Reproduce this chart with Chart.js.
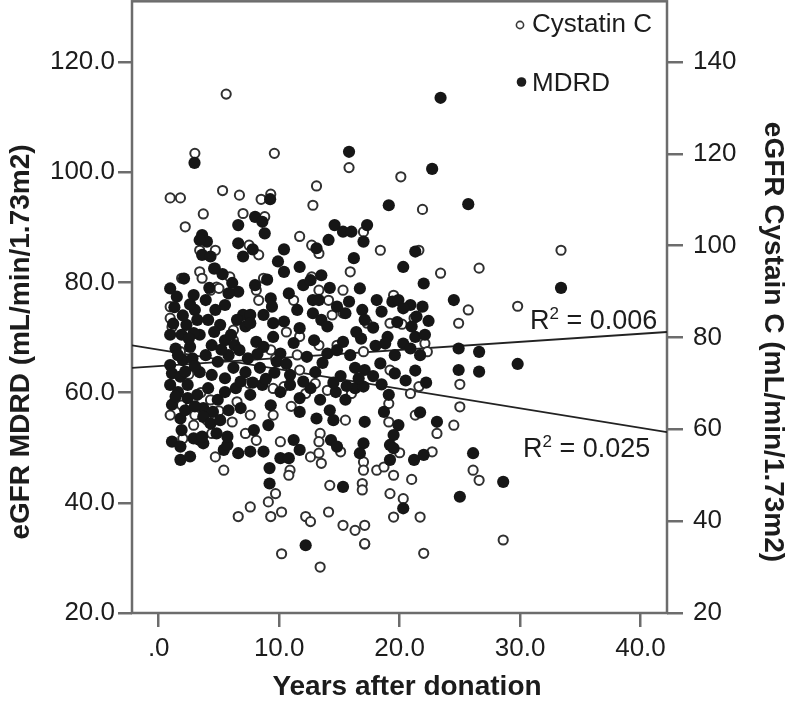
<!DOCTYPE html>
<html>
<head>
<meta charset="utf-8">
<script src="https://cdn.jsdelivr.net/npm/chart.js@4.4.1/dist/chart.umd.min.js"></script>
<style>
  html, body { margin: 0; padding: 0; background: #fff; }
</style>
</head>
<body>
<canvas id="chart" width="787" height="702"></canvas>
<script>
// [years after donation, eGFR]
const mdrdPoints = [
  [2.97,101.7],[9.25,95.1],[23.4,113.5],[15.8,103.7],[22.7,100.6],
  [33.4,79.0],[29.8,65.2],[28.6,43.8],
  [3.6,88.6],[4.0,87.4],[3.4,87.7],[3.6,85.0],[4.3,84.7],[2.1,80.7],[0.95,78.9],[1.5,77.4],[2.9,77.7],[0.95,70.5],[0.95,65.0],
  [1.8,55.3],[1.9,53.2],[1.1,51.1],[1.8,50.2],[1.8,47.8],[2.6,48.4],[3.4,51.4],[3.7,50.8],[5.4,49.6],[5.7,50.5],
  [0.95,61.4],[1.6,60.1],[2.4,61.4],[3.2,59.6],[4.1,60.8],[4.9,58.7],[5.5,60.1],[1.1,57.8],[2.2,56.8],[3.7,57.2],[4.5,56.5],[5.8,56.8],
  [2.9,51.7],[3.6,52.0],[3.7,55.6],[4.3,54.4],[5.1,55.0],[4.8,52.6],[5.7,52.0],
  [3.9,76.8],[4.7,75.0],[5.5,75.9],[4.1,73.2],[5.1,72.3],[3.4,70.5],[4.4,68.6],[5.5,69.5],[3.9,66.8],[4.9,65.6],[5.8,66.8],
  [3.4,63.7],[4.4,63.2],[5.5,62.6],[2.6,68.3],[2.0,65.9],[2.9,70.8],[1.1,63.5],[1.8,62.9],[3.0,75.0],[3.2,73.2],[2.3,72.3],
  [6.6,90.4],[8.0,91.9],[8.6,91.0],[8.8,88.9],[14.6,90.4],[15.3,89.2],[16.0,89.2],[13.1,86.2],[14.1,87.7],[6.6,87.1],[7.0,84.7],
  [9.9,83.8],[10.4,81.9],[11.7,82.8],[16.2,84.4],[6.1,79.9],[6.6,78.3],[12.0,79.5],[12.6,80.4],[13.5,81.3],[12.8,76.8],[13.3,76.8],
  [9.3,77.1],[9.4,75.6],[7.0,74.1],[7.6,74.1],[8.7,74.1],[14.8,75.6],[15.5,74.4],[12.8,74.4],[13.5,73.2],[14.0,72.0],[9.5,72.6],
  [10.4,72.9],[6.5,73.2],[7.2,72.0],[7.6,72.6],[9.5,70.1],[11.7,71.7],[8.1,69.2],[8.7,68.3],[15.3,69.2],[6.3,68.6],[6.7,67.7],
  [10.1,67.1],[9.8,65.6],[12.3,66.5],[14.0,67.1],[14.8,67.7],[15.9,66.8],[7.2,63.7],[8.4,64.5],[10.9,63.2],[13.0,63.7],[15.1,63.0],[16.3,64.5],
  [6.4,60.8],[7.6,59.6],[8.6,61.4],[10.1,60.1],[10.9,61.4],[11.7,59.0],[12.6,60.8],[13.4,58.7],[14.7,60.1],[15.5,58.7],[16.3,60.8],
  [6.8,57.2],[9.3,57.7],[11.7,56.5],[14.2,56.8],[9.1,54.1],[7.9,53.2],[11.2,51.4],[11.7,49.6],[10.1,48.1],[10.8,48.1],[8.7,49.3],
  [7.6,49.3],[6.6,49.0],[9.2,46.3],[9.2,43.5],[15.3,42.9],[12.2,32.3],[13.1,55.3],[14.5,55.0],[14.3,51.4],[14.8,50.2],
  [19.1,94.0],[25.7,94.2],[17.3,90.4],[17.0,87.4],[21.3,85.6],[20.3,82.8],[22.0,79.8],[16.7,78.9],[18.1,76.8],[19.4,76.5],[19.9,76.8],
  [20.9,75.9],[21.9,75.6],[18.5,74.7],[20.3,75.3],[16.9,75.0],[17.1,73.2],[24.5,76.8],[21.4,73.8],[19.0,70.1],[18.8,68.9],[21.3,70.1],
  [22.1,70.5],[20.3,68.9],[20.9,68.0],[21.7,66.8],[24.9,68.0],[26.6,67.4],[18.4,65.3],[17.1,64.1],[24.9,64.1],[26.6,63.8],
  [17.0,61.1],[19.1,59.6],[18.7,56.5],[21.7,56.4],[23.1,54.7],[17.1,54.7],[17.0,50.8],[19.9,54.1],[19.5,52.3],[19.2,50.5],[19.5,49.9],
  [16.7,49.0],[19.2,47.8],[21.2,47.8],[22.0,48.7],[26.1,49.0],[25.0,41.1],[20.3,39.0],
  [1.3,75.5],[2.0,74.0],[2.6,76.0],[1.2,72.5],[1.9,70.5],[2.5,69.8],[1.4,68.0],[1.6,66.8],[2.2,63.8],[2.8,66.2],[3.0,64.8],
  [2.4,59.0],[3.0,57.5],[1.4,59.3],[4.6,71.0],[5.2,67.8],[6.0,70.5],[6.2,64.5],[6.8,62.0],[7.4,66.2],[7.8,61.8],[8.2,67.0],
  [8.9,62.5],[9.6,63.6],[10.6,65.2],[11.2,69.0],[12.0,62.0],[12.9,69.5],[13.6,65.4],[14.5,61.8],[15.6,61.2],[16.6,62.6],
  [17.8,63.0],[18.5,61.5],[19.6,63.5],[20.5,62.2],[21.3,64.0],[22.2,61.8],[18.0,68.5],[19.6,66.8],[16.8,69.8],[17.8,71.8],
  [19.8,72.8],[21.0,72.0],[22.4,73.0],[8.0,79.5],[9.0,80.5],[10.8,78.0],[11.5,75.0],[14.2,79.0],[15.8,76.5],[16.4,71.0],
  [10.4,86.0],[7.8,86.0],[5.3,81.5],[4.2,79.0],[5.8,78.0],[4.6,82.5]
];

const cystatinPoints = [
  [5.6,133.0],[3.0,120.1],[9.6,120.1],[0.95,110.4],[1.8,110.4],[5.3,112.0],[6.7,111.0],[8.5,110.1],[9.3,111.2],[15.8,117.0],[13.1,113.0],[20.1,115.0],
  [33.4,99.0],[29.8,86.8],[28.6,35.9],[13.4,30.0],[17.1,35.0],
  [3.7,106.9],[2.2,104.1],[3.4,99.0],[4.7,99.0],[4.7,95.1],[3.4,94.3],[3.6,92.9],[1.9,92.9],[4.8,91.0],[0.95,86.7],[4.3,90.3],[5.0,90.7],
  [0.95,84.2],[1.1,82.3],[1.8,76.9],
  [0.95,63.1],[1.9,65.3],[3.0,63.1],[2.9,60.9],[4.4,59.1],[4.7,54.0],[5.4,51.1],
  [12.8,108.8],[7.0,107.0],[8.8,106.3],[11.7,102.0],[12.7,100.1],[13.3,98.3],[7.5,100.1],[8.3,98.0],[15.9,94.3],[8.7,92.9],[8.1,90.3],
  [8.3,88.1],[12.7,93.2],[13.3,90.3],[14.1,88.1],[15.3,90.3],[11.2,88.1],[14.4,84.9],[15.3,85.3],[10.6,81.2],[11.7,80.2],[13.3,78.3],
  [14.8,78.3],[6.2,81.6],[6.2,79.4],[9.3,77.3],[9.7,75.4],[11.5,76.2],[11.7,72.9],
  [12.2,67.8],[14.0,68.5],[16.0,67.8],[9.5,63.1],[7.6,63.1],[7.2,59.1],[8.1,57.6],[10.1,57.3],[12.6,54.0],[13.3,54.8],[13.5,52.6],
  [10.9,51.1],[10.8,50.0],[9.7,46.0],[9.1,44.2],[7.6,43.1],[6.6,41.0],[9.3,41.0],[10.2,42.0],[12.2,41.0],[12.6,39.9],[14.1,42.0],
  [14.2,47.8],[15.3,39.1],[16.3,38.0],[10.2,32.9],[13.4,59.1],[13.3,57.3],[15.1,55.1],
  [21.9,107.9],[17.0,103.0],[18.4,99.0],[21.6,99.0],[23.4,94.0],[26.6,95.1],[19.5,89.2],[25.7,86.0],[17.3,83.1],[19.2,83.1],[20.2,82.9],
  [21.2,84.2],[24.9,83.1],[22.1,78.7],[22.3,76.9],[17.0,76.9],[19.2,72.9],
  [21.6,69.3],[25.0,69.8],[20.9,67.8],[19.1,65.6],[25.0,64.9],[21.3,63.1],[19.1,61.6],[23.1,59.1],[24.5,60.9],[20.0,54.9],[22.7,55.1],
  [26.1,51.1],[26.6,48.9],[17.0,52.9],[17.0,51.1],[18.1,51.1],[18.7,51.8],[19.5,50.0],[21.0,49.1],[16.9,48.2],[16.9,46.8],[19.2,46.0],
  [20.3,44.9],[19.5,40.9],[21.7,40.9],[17.1,39.1],[17.1,35.1],[22.0,33.0],
  [4.3,66.4],[5.9,93.2],[9.5,68.9],[10.4,69.3],[6.1,61.6],[2.5,72.0],[3.5,68.0],[5.0,64.0],[7.5,70.0],[11.0,65.0],[13.0,70.0],
  [2.0,58.0],[4.0,62.0],[6.5,66.0],[15.5,62.0]
];

// fit lines, ends at the x-axis limits
const fitX = [-2.22, 42.2];
const mdrdFit = [64.5, 71.0];
const cystatinFit = [78.3, 59.4];
const mdrdR2 = '0.006';
const cystatinR2 = '0.025';

const xTicks = [0, 10, 20, 30, 40];
const leftTicks = [20, 40, 60, 80, 100, 120];
const rightTicks = [20, 40, 60, 80, 100, 120, 140];

const FONT = "'Liberation Sans', Arial, Helvetica, sans-serif";
const AXIS = '#6c6c6c';
const INK = '#1c1c1c';

function toXY(arr) {
  return arr.map(p => ({ x: p[0], y: p[1] }));
}

const overlay = {
  id: 'overlay',
  beforeDatasetsDraw(chart) {
    const ctx = chart.ctx;
    const a = chart.chartArea;
    ctx.save();
    ctx.strokeStyle = AXIS;
    ctx.lineWidth = 2.5;
    ctx.strokeRect(a.left, a.top + 0.3, a.right - a.left, a.bottom - a.top - 0.3);
    ctx.restore();
  },
  afterDraw(chart) {
    const ctx = chart.ctx;
    ctx.save();
    ctx.fillStyle = INK;

    // axis titles
    ctx.font = 'bold 28px ' + FONT;
    ctx.textAlign = 'center';
    ctx.textBaseline = 'middle';
    ctx.fillText('Years after donation', 407, 687);

    ctx.save();
    ctx.translate(21, 342);
    ctx.rotate(-Math.PI / 2);
    ctx.fillText('eGFR MDRD (mL/min/1.73m2)', 0, 0);
    ctx.restore();

    ctx.save();
    ctx.translate(773, 342);
    ctx.rotate(Math.PI / 2);
    ctx.fillText('eGFR Cystain C (mL/min/1.73m2)', 0, 0);
    ctx.restore();

    // legend
    ctx.textAlign = 'left';
    ctx.font = '26px ' + FONT;
    ctx.beginPath();
    ctx.arc(520, 25, 3.6, 0, Math.PI * 2);
    ctx.fillStyle = '#fff';
    ctx.fill();
    ctx.lineWidth = 1.6;
    ctx.strokeStyle = '#3a3a3a';
    ctx.stroke();
    ctx.fillStyle = INK;
    ctx.fillText('Cystatin C', 532, 25);
    ctx.beginPath();
    ctx.arc(521.5, 82, 4.8, 0, Math.PI * 2);
    ctx.fill();
    ctx.fillText('MDRD', 532, 84);

    // R squared labels
    function r2(x, y, val) {
      ctx.font = '27px ' + FONT;
      ctx.fillText('R', x, y);
      const w = ctx.measureText('R').width;
      ctx.font = '17px ' + FONT;
      ctx.fillText('2', x + w, y - 8);
      const w2 = ctx.measureText('2').width;
      ctx.font = '27px ' + FONT;
      ctx.fillText(' = ' + val, x + w + w2, y);
    }
    r2(530, 322, mdrdR2);
    r2(523, 450, cystatinR2);
    ctx.restore();
  }
};

const tickFont = { family: FONT, size: 26 };

function fixY(width) {
  return s => { s.width = width; s.paddingTop = 0; s.paddingBottom = 0; };
}

new Chart(document.getElementById('chart'), {
  type: 'scatter',
  data: {
    datasets: [
      {
        label: 'MDRD',
        data: toXY(mdrdPoints),
        yAxisID: 'y',
        pointRadius: 6.1,
        pointBackgroundColor: '#161616',
        pointBorderColor: '#161616',
        pointBorderWidth: 0
      },
      {
        label: 'Cystatin C',
        data: toXY(cystatinPoints),
        yAxisID: 'y2',
        pointRadius: 4.6,
        pointBackgroundColor: '#ffffff',
        pointBorderColor: '#303030',
        pointBorderWidth: 2
      },
      {
        label: 'MDRD fit',
        data: fitX.map((x, i) => ({ x: x, y: mdrdFit[i] })),
        yAxisID: 'y',
        showLine: true,
        borderColor: '#222',
        borderWidth: 1.8,
        pointRadius: 0
      },
      {
        label: 'Cystatin fit',
        data: fitX.map((x, i) => ({ x: x, y: cystatinFit[i] })),
        yAxisID: 'y2',
        showLine: true,
        borderColor: '#222',
        borderWidth: 1.8,
        pointRadius: 0
      }
    ]
  },
  options: {
    responsive: false,
    animation: false,
    devicePixelRatio: 1,
    layout: { autoPadding: false, padding: { top: 1, left: 0, right: 0, bottom: 0 } },
    plugins: { legend: { display: false }, tooltip: { enabled: false } },
    scales: {
      x: {
        type: 'linear',
        min: -2.22,
        max: 42.2,
        afterBuildTicks: s => { s.ticks = xTicks.map(v => ({ value: v })); },
        afterFit: s => { s.height = 89; s.paddingLeft = 0; s.paddingRight = 0; },
        border: { display: false },
        grid: { drawOnChartArea: false, drawTicks: true, tickLength: 14, color: AXIS, lineWidth: 2.5 },
        ticks: {
          font: tickFont, color: INK, padding: 6, maxRotation: 0,
          callback: v => v === 0 ? '.0' : v.toFixed(1)
        }
      },
      y: {
        type: 'linear',
        position: 'left',
        min: 20,
        max: 131.07,
        afterBuildTicks: s => { s.ticks = leftTicks.map(v => ({ value: v })); },
        afterFit: fixY(132),
        border: { display: false },
        grid: { drawOnChartArea: false, drawTicks: true, tickLength: 14, color: AXIS, lineWidth: 2.5 },
        ticks: { font: tickFont, color: INK, padding: 3, callback: v => v.toFixed(1) }
      },
      y2: {
        type: 'linear',
        position: 'right',
        min: 20,
        max: 153.28,
        afterBuildTicks: s => { s.ticks = rightTicks.map(v => ({ value: v })); },
        afterFit: fixY(120),
        border: { display: false },
        grid: { drawOnChartArea: false, drawTicks: true, tickLength: 16, color: AXIS, lineWidth: 2.5 },
        ticks: { font: tickFont, color: INK, padding: 10, callback: v => String(v) }
      }
    }
  },
  plugins: [overlay]
});
</script>
</body>
</html>
